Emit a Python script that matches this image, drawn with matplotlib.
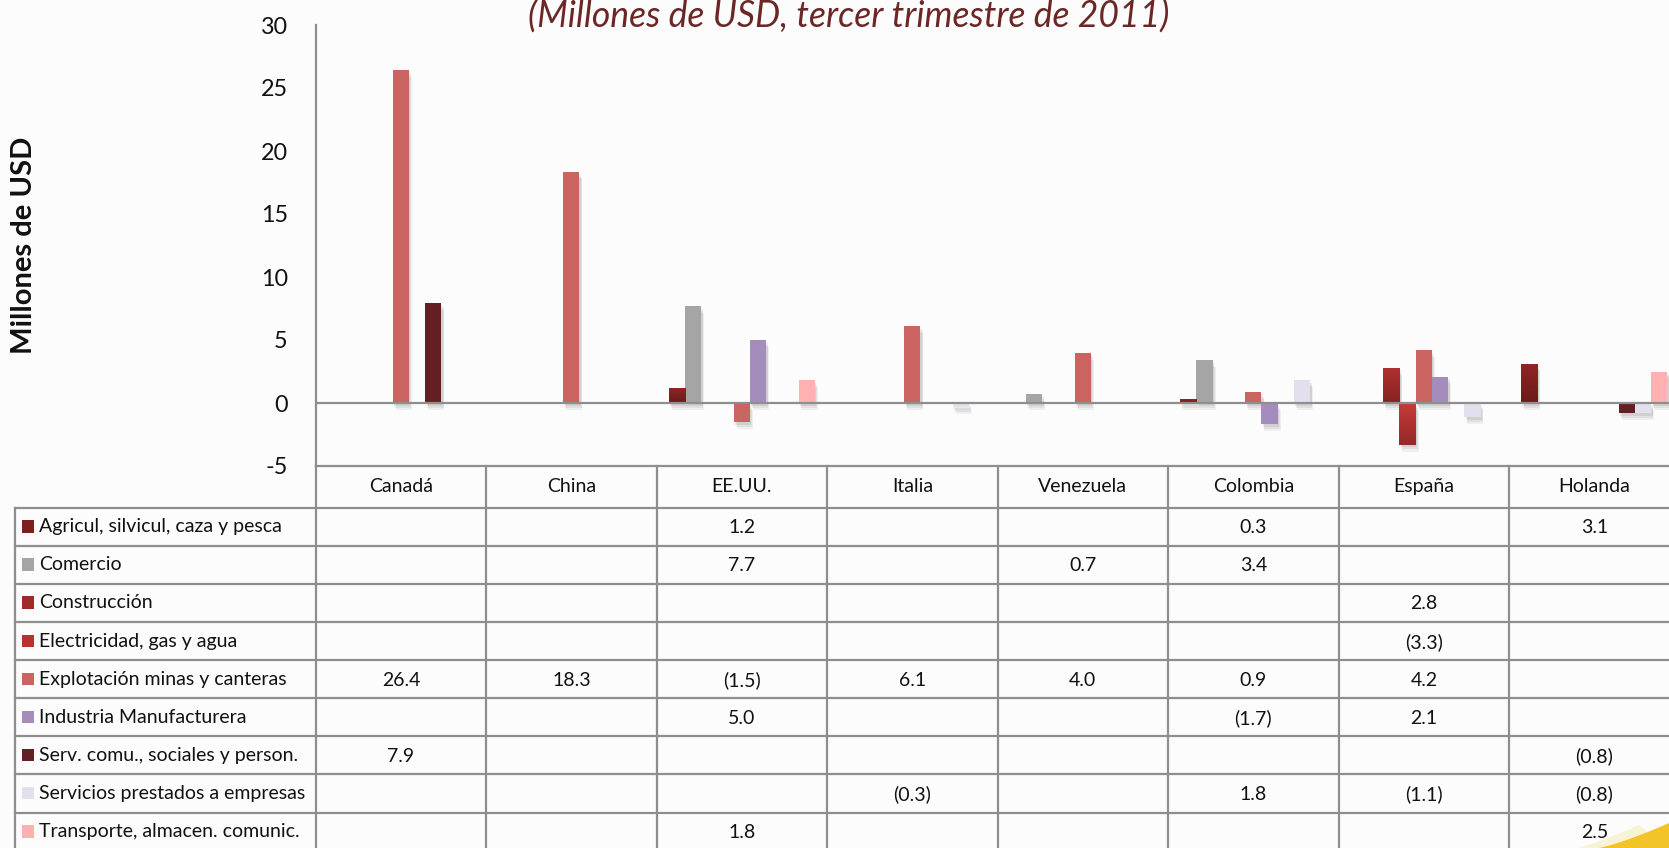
import numpy as np
import matplotlib
matplotlib.use("Agg")
import matplotlib.pyplot as plt
from matplotlib.patches import Rectangle, Polygon
from matplotlib.colors import LinearSegmentedColormap
import matplotlib.patheffects as pe

plt.rcParams['font.family'] = ['Lato', 'DejaVu Sans']

# ---- data -------------------------------------------------------------
countries = ["Canadá", "China", "EE.UU.", "Italia", "Venezuela",
             "Colombia", "España", "Holanda"]

sectors = ["Agricul, silvicul, caza y pesca",
           "Comercio",
           "Construcción",
           "Electricidad, gas y agua",
           "Explotación minas y canteras",
           "Industria Manufacturera",
           "Serv. comu., sociales y person.",
           "Servicios prestados a empresas",
           "Transporte, almacen. comunic."]

nan = np.nan
agricultura   = [nan, nan, 1.2, nan, nan, 0.3, nan, 3.1]
comercio      = [nan, nan, 7.7, nan, 0.7, 3.4, nan, nan]
construccion  = [nan, nan, nan, nan, nan, nan, 2.8, nan]
electricidad  = [nan, nan, nan, nan, nan, nan, -3.3, nan]
explotacion   = [26.4, 18.3, -1.5, 6.1, 4.0, 0.9, 4.2, nan]
industria     = [nan, nan, 5.0, nan, nan, -1.7, 2.1, nan]
serv_comu     = [7.9, nan, nan, nan, nan, nan, nan, -0.8]
serv_empresas = [nan, nan, nan, -0.3, nan, 1.8, -1.1, -0.8]
transporte    = [nan, nan, 1.8, nan, nan, nan, nan, 2.5]

series = [agricultura, comercio, construccion, electricidad, explotacion,
          industria, serv_comu, serv_empresas, transporte]

yticks = [-5, 0, 5, 10, 15, 20, 25, 30]

# ---- styles -----------------------------------------------------------
colors = ["#7d1f1f", "#a5a5a5", "#a02a2a", "#b83330", "#c96461",
          "#a48dbd", "#632023", "#e4dfec", "#ffb1b1"]
# vertical gradients (top, bottom) for the red families
gradients = {0: ("#922626", "#6a1a1a"),
             2: ("#b03030", "#862323"),
             3: ("#c63b36", "#952929")}

W, H = 1669, 848
BG = "#fcfcfc"
GRID = "#8e8e8e"
TXT = "#111111"

def fx(px):
    return px / W

def fy(py):
    return 1 - py / H

fig = plt.figure(figsize=(W / 100, H / 100), dpi=100, facecolor=BG)

# plot area (extends past the right edge of the canvas)
x_left, x_right = 315.6, 1679.6
y_top, y_bot = 25.0, 466.0
ax = fig.add_axes([fx(x_left), fy(y_bot), (x_right - x_left) / W,
                   (y_bot - y_top) / H])
ax.set_facecolor("none")

n_cat = len(countries)
n_ser = len(series)
xc = np.arange(n_cat)
bw = 0.0953

shadow = [pe.SimplePatchShadow(offset=(1.0, -2.0), shadow_rgbFace="#000000", alpha=0.07),
          pe.SimplePatchShadow(offset=(1.5, -3.5), shadow_rgbFace="#000000", alpha=0.06),
          pe.SimplePatchShadow(offset=(2.0, -5.0), shadow_rgbFace="#000000", alpha=0.05),
          pe.Normal()]

for i, vals in enumerate(series):
    v = np.array(vals, dtype=float)
    m = ~np.isnan(v)
    bars = ax.bar(xc[m] + (i - (n_ser - 1) / 2) * bw, v[m], width=bw,
                  color=colors[i], linewidth=0, zorder=2)
    for b in bars:
        b.set_path_effects(shadow)
        if i in gradients:
            top, bottom = gradients[i]
            cmap = LinearSegmentedColormap.from_list("g%d" % i, [top, bottom])
            x0, y0 = b.get_x(), b.get_y()
            x1, y1 = x0 + b.get_width(), y0 + b.get_height()
            ylo, yhi = min(y0, y1), max(y0, y1)
            im = ax.imshow(np.linspace(0, 1, 64).reshape(-1, 1), cmap=cmap,
                           extent=(x0, x1, ylo, yhi), origin="upper",
                           aspect="auto", zorder=2.1, interpolation="bilinear")
            im.set_clip_path(b)

ax.axhline(0, color=GRID, lw=1.6, zorder=3)
ax.set_xlim(-0.5, n_cat - 0.5)
ax.set_ylim(-5, 30)
ax.set_yticks(yticks)
ax.set_yticklabels([str(t) for t in yticks], fontsize=16.8, color=TXT)
ax.tick_params(axis="y", length=0, pad=20)
ax.set_xticks([])
for s in ("top", "right"):
    ax.spines[s].set_visible(False)
for s in ("left", "bottom"):
    ax.spines[s].set_color(GRID)
    ax.spines[s].set_linewidth(1.6)

# titles
fig.text(fx(849), fy(17), "(Millones de USD, tercer trimestre de 2011)",
         ha="center", va="center", fontsize=25.6, style="italic",
         color="#6b2626")
fig.text(fx(24), fy(245), "Millones de USD", rotation=90,
         ha="center", va="center", fontsize=21, fontweight="bold",
         color=TXT)

# ---- data table -------------------------------------------------------
t_bot = 850.6
head_h, row_h = 41.7, 38.1
tax = fig.add_axes([fx(x_left), fy(t_bot), (x_right - x_left) / W,
                    (t_bot - y_bot) / H])
tax.set_xlim(-0.5, n_cat - 0.5)
tax.set_ylim(t_bot - y_bot, 0)
tax.axis("off")

col_w_px = (x_right - x_left) / n_cat
leg_left = -0.5 - (x_left - 14.7) / col_w_px
px_x = 1.0 / col_w_px  # one pixel in column units

line_kw = dict(color=GRID, lw=1.6, clip_on=False, zorder=1)
for k in range(n_cat + 1):
    tax.plot([k - 0.5, k - 0.5], [0, t_bot - y_bot], **line_kw)
tax.plot([leg_left, leg_left], [head_h, t_bot - y_bot], **line_kw)
for r in range(n_ser + 1):
    yy = head_h + r * row_h
    tax.plot([leg_left, n_cat - 0.5], [yy, yy], **line_kw)

FS = 14.0
txt_kw = dict(ha="center", va="center", fontsize=FS, color=TXT,
              clip_on=False)
for j, c in enumerate(countries):
    tax.text(j, head_h / 2, c, **txt_kw)

for i, (name, vals) in enumerate(zip(sectors, series)):
    yc = head_h + (i + 0.5) * row_h
    tax.add_patch(Rectangle((leg_left + 7.2 * px_x, yc - 6.5), 12.5 * px_x, 12.5,
                            facecolor=colors[i], edgecolor="none",
                            clip_on=False))
    tax.text(leg_left + 24.6 * px_x, yc, name, ha="left", va="center",
             fontsize=FS, color=TXT, clip_on=False)
    for j, v in enumerate(vals):
        if np.isnan(v):
            continue
        s = "(%.1f)" % abs(v) if v < 0 else "%.1f" % v
        tax.text(j, yc + 1, s, **txt_kw)

# decorative yellow swoosh in the bottom-right corner
t = np.linspace(0, 1, 40)
xs = 1598 + 71 * t
ys = 848 - 25 * t ** 1.25
glow = Polygon(np.column_stack([fx(np.r_[xs - 30, 1669, 1560]),
                                fy(np.r_[ys + 2, 848, 848])]),
               closed=True, transform=fig.transFigure,
               facecolor="#f8ecb8", edgecolor="none", alpha=0.55, zorder=0)
swoosh = Polygon(np.column_stack([fx(np.r_[xs, 1669]), fy(np.r_[ys, 848])]),
                 closed=True, transform=fig.transFigure,
                 facecolor="#f2c427", edgecolor="none", zorder=0.5)
fig.patches.extend([glow, swoosh])

fig.savefig("out.png", dpi=100, facecolor=BG)
